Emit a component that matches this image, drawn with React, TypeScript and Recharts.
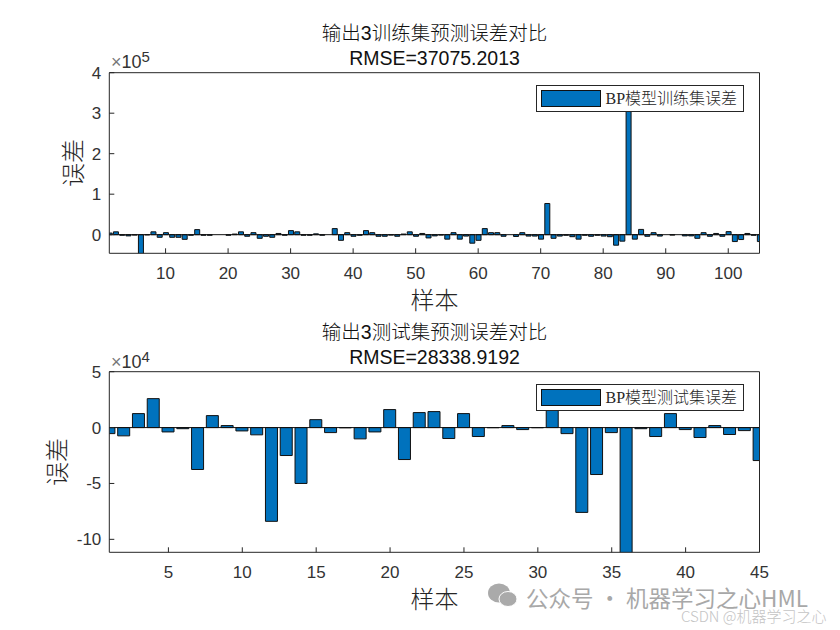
import React from "react";
import { BarChart, Bar, XAxis, YAxis, ReferenceLine, Legend } from "recharts";

const trainErrors = [
  4000, 7000, -1500, -3000, -1000, -60000, -500, 7000, -6500, 5000,
  -6500, -6500, -11500, -1500, 12500, -1500, -1500, 0, 0, -1500,
  1500, 7000, -4000, 5000, -9000, -4000, -6500, 3000, -1500, 10000,
  7000, -1500, -1500, 2000, -1500, 0, 15000, -14000, 5000, -4000,
  -1500, 10000, 5000, -4000, -4000, -1000, -4000, 1500, 7000, -4000,
  3000, -8000, -3000, -1000, -11000, 5000, -11000, -3500, -21000, -14000,
  15000, 5000, 5000, -4000, 0, -4500, 5000, -3500, -3500, -11000,
  77000, -9000, -3500, -1500, -5000, -11000, -1500, -4000, -1500, -3500,
  -5000, -26000, -16000, 340000, -11000, 13000, -4000, 5000, -3500, 0,
  -1000, 0, -3000, -3000, -9000, 5000, -4000, 3000, -4000, 7500,
  -17000, -12000, 3000, -1500, -17000,
];
const testErrors = [
  -5400, -7400, 12500, 25900, -3900, -1000, -37500, 10700, 1800, -3000,
  -6500, -83900, -25000, -50000, 7100, -4500, -200, -10100, -3900, 16100,
  -28600, 13400, 14300, -9800, 12500, -8000, -100, 1800, -1800, -100,
  20000, -5400, -75900, -42000, -4500, -120000, -1000, -8000, 12500, -1800,
  -8900, 1800, -6200, -2700, -29500,
];
const trainXTicks = [10, 20, 30, 40, 50, 60, 70, 80, 90, 100];
const trainYTicks = [0, 100000, 200000, 300000, 400000];
const testXTicks = [5, 10, 15, 20, 25, 30, 35, 40, 45];
const testYTicks = [-100000, -50000, 0, 50000];
const trainTitle = ["输出3训练集预测误差对比", "RMSE=37075.2013"];
const testTitle = ["输出3测试集预测误差对比", "RMSE=28338.9192"];

const toRows = (values: number[]) => values.map((v, i) => ({ sample: i + 1, err: v }));

const SANS = '"Liberation Sans", "Noto Sans CJK SC", sans-serif';
const SERIF = '"Liberation Serif", "Noto Sans CJK SC", serif';
const INK = "#262626";
const tickStyle = { fontSize: 17, fill: "#333", fontFamily: SANS };

function LegendBox({ payload }: any) {
  const item = payload?.[0];
  return (
    <div style={{ width: 208, height: 27, boxSizing: "border-box", border: "1px solid #262626", background: "#fff", position: "relative" }}>
      <div style={{ position: "absolute", left: 4, top: 4, width: 60, height: 17, boxSizing: "border-box", background: "#0072BD", border: "1px solid #111" }} />
      <div style={{ position: "absolute", left: 69, top: 0, lineHeight: "25px", fontSize: 16, fontFamily: SERIF, color: INK, whiteSpace: "nowrap", fontWeight: 300 }}>
        {item?.value}
      </div>
    </div>
  );
}

function ErrorChart(props: {
  values: number[]; name: string; xMax: number; xTicks: number[]; yTicks: number[];
  yDomain: [number, number]; scale: number; barSize: number; top: number; height: number;
  margin: { top: number; bottom: number }; yLabelDx: number; legendTop: number;
}) {
  const { values, name, xMax, xTicks, yTicks, yDomain, scale, barSize, top, height, margin, yLabelDx, legendTop } = props;
  return (
    <div style={{ position: "absolute", left: 0, top }}>
      <BarChart width={840} height={height} data={toRows(values)} barCategoryGap={0}
        margin={{ left: 49.3, right: 79.5, top: margin.top, bottom: margin.bottom }}>
        <XAxis dataKey="sample" type="number" domain={[1, xMax]} ticks={xTicks} allowDataOverflow interval={0}
          height={40} tickSize={-5} tickMargin={18.5} tick={tickStyle}
          axisLine={{ stroke: INK }} tickLine={{ stroke: INK }}
          label={{ value: "样本", position: "center", dy: 27, style: { fontSize: 24, fill: INK, fontFamily: SANS, fontWeight: 300 } }} />
        <XAxis xAxisId="topEdge" orientation="top" dataKey="sample" type="number" domain={[1, xMax]} ticks={xTicks} allowDataOverflow interval={0}
          height={1} tickSize={-5} tick={false} axisLine={{ stroke: INK }} tickLine={{ stroke: INK }} />
        <YAxis domain={yDomain} ticks={yTicks} allowDataOverflow interval={0} width={60} tickSize={-5} tickMargin={13}
          tick={tickStyle} tickFormatter={(v: number) => String(v / scale)}
          axisLine={{ stroke: INK }} tickLine={{ stroke: INK }}
          label={{ value: "误差", angle: -90, position: "center", dx: yLabelDx, style: { fontSize: 24, fill: INK, fontFamily: SANS, fontWeight: 300 } }} />
        <YAxis yAxisId="rightEdge" orientation="right" domain={yDomain} ticks={yTicks} allowDataOverflow interval={0} width={1} tickSize={-5}
          tick={false} axisLine={{ stroke: INK }} tickLine={{ stroke: INK }} />
        <Bar dataKey="err" name={name} barSize={barSize} fill="#0072BD" stroke="#111" strokeWidth={1} isAnimationActive={false} />
        <ReferenceLine y={0} stroke="#111" strokeWidth={1} />
        <Legend layout="horizontal" verticalAlign="middle" align="center" content={<LegendBox />}
          wrapperStyle={{ position: "absolute", left: 535.5, top: legendTop, width: 208, height: 27, margin: 0 }} />
      </BarChart>
    </div>
  );
}

function Title({ lines, top }: { lines: string[]; top: number }) {
  return (
    <div style={{ position: "absolute", left: 109, width: 651, top, textAlign: "center", fontFamily: SANS, color: "#111", fontSize: 19.5, lineHeight: "25px", whiteSpace: "nowrap" }}>
      <div style={{ fontWeight: 300 }}>{lines[0]}</div>
      <div>{lines[1]}</div>
    </div>
  );
}

function Exponent({ power, top }: { power: number; top: number }) {
  return (
    <div style={{ position: "absolute", left: 111, top, fontFamily: SANS, color: "#333", fontSize: 18, lineHeight: "20px", whiteSpace: "nowrap" }}>
      <span style={{ color: "#777" }}>×</span>10<sup style={{ fontSize: 15, lineHeight: 0, verticalAlign: "6px" }}>{power}</sup>
    </div>
  );
}

export default function App() {
  return (
    <div style={{ position: "absolute", left: 0, top: 0, width: 840, height: 630, background: "#fff", overflow: "hidden" }}>
      <ErrorChart values={trainErrors} name="BP模型训练集误差" xMax={105} xTicks={trainXTicks} yTicks={trainYTicks}
        yDomain={[-46000, 400000]} scale={100000} barSize={5} top={0} height={320}
        margin={{ top: 71.7, bottom: 26.7 }} yLabelDx={-6} legendTop={84.5} />
      <ErrorChart values={testErrors} name="BP模型测试集误差" xMax={45} xTicks={testXTicks} yTicks={testYTicks}
        yDomain={[-111600, 50000]} scale={10000} barSize={12} top={320} height={310}
        margin={{ top: 50.7, bottom: 37.7 }} yLabelDx={-22} legendTop={63.5} />
      <Title lines={trainTitle} top={21} />
      <Title lines={testTitle} top={320} />
      <Exponent power={5} top={52} />
      <Exponent power={4} top={352} />
      <svg width={32} height={26} style={{ position: "absolute", left: 487, top: 583 }}>
        <ellipse cx={12} cy={10} rx={11} ry={9.5} fill="#aaa" />
        <ellipse cx={21} cy={16} rx={9} ry={7.5} fill="#aaa" stroke="#fff" strokeWidth={1} />
      </svg>
      <div style={{ position: "absolute", left: 526, top: 586, fontFamily: '"Noto Sans CJK SC", sans-serif', fontSize: 22.5, lineHeight: "22px", color: "#a8a8a8", whiteSpace: "nowrap" }}>
        公众号 · 机器学习之心HML
      </div>
      <div style={{ position: "absolute", left: 681, top: 608, fontFamily: '"Noto Sans CJK SC", sans-serif', fontSize: 15, lineHeight: "15px", color: "#c4c4c4", whiteSpace: "nowrap", fontWeight: 300 }}>
        CSDN @机器学习之心
      </div>
    </div>
  );
}
